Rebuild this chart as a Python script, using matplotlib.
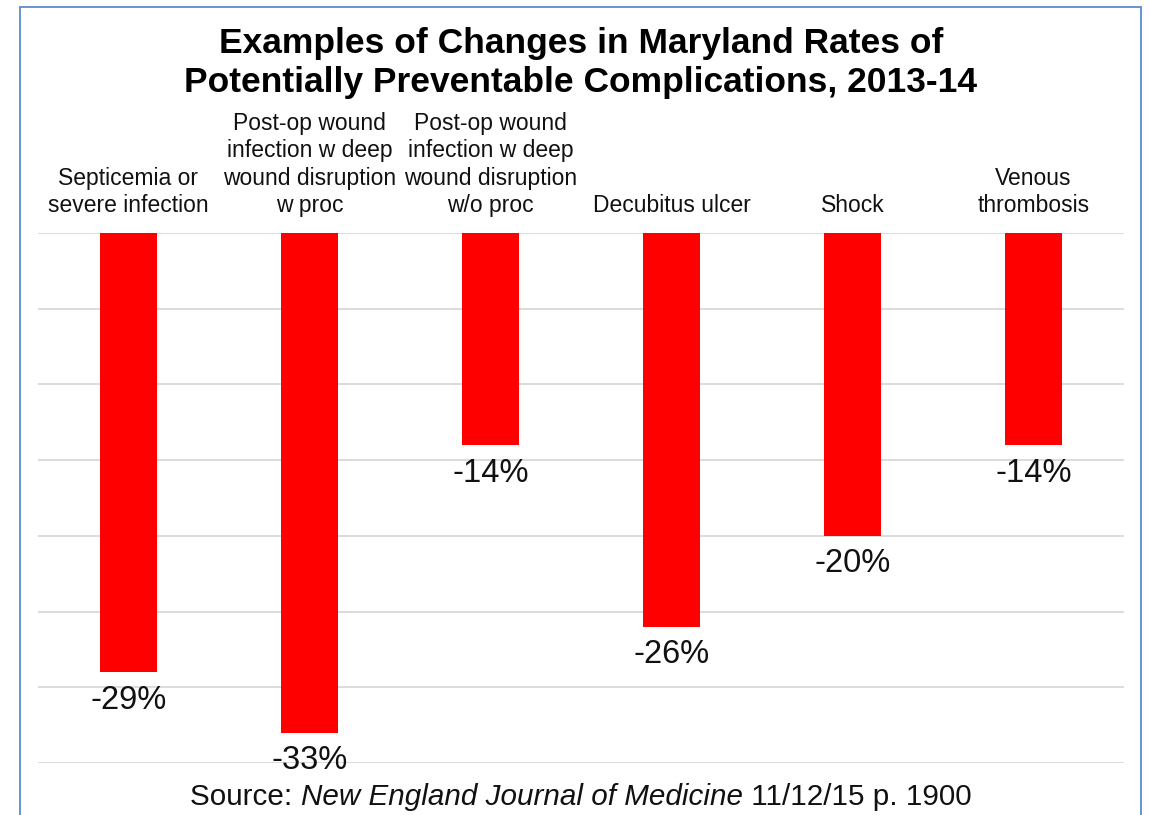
import matplotlib
matplotlib.use("Agg")
import matplotlib.pyplot as plt
from matplotlib.offsetbox import TextArea, HPacker, AnnotationBbox
from matplotlib.patches import Rectangle

categories = ["Septicemia or\nsevere infection",
              "Post-op wound\ninfection w deep\nwound disruption\nw proc",
              "Post-op wound\ninfection w deep\nwound disruption\nw/o proc",
              "Decubitus ulcer",
              "Shock",
              "Venous\nthrombosis"]
changes = [-29, -33, -14, -26, -20, -14]
value_labels = ["-29%", "-33%", "-14%", "-26%", "-20%", "-14%"]

plt.rcParams['font.family'] = ['Liberation Sans', 'DejaVu Sans']

W, H = 1150, 815
fig = plt.figure(figsize=(W / 100, H / 100), dpi=100)
ax = fig.add_axes([38 / W, 1 - 763 / H, (1124 - 38) / W, (763 - 233) / H])

x = list(range(len(categories)))
ax.bar(x, changes, width=0.315, color="#FF0000", zorder=3)
ax.set_xlim(-0.5, len(categories) - 0.5)
ax.set_ylim(-35, 0)
ax.set_yticks(range(-35, 1, 5))
ax.yaxis.grid(True, color="#D9D9D9", linewidth=1.3, zorder=0)
ax.tick_params(axis="y", left=False, labelleft=False)
ax.xaxis.tick_top()
ax.set_xticks(x)
ax.set_xticklabels(categories, fontsize=16.5, color="#111111", linespacing=1.25)
ax.tick_params(axis="x", top=False, pad=8)
for s in ax.spines.values():
    s.set_visible(False)

for xi, v, lab in zip(x, changes, value_labels):
    ax.annotate(lab, (xi, v), xytext=(0, -9), textcoords="offset points",
                ha="center", va="top", fontsize=23.5, color="#111111")

fig.text(0.505, 1 - 63 / H, "Examples of Changes in Maryland Rates of\nPotentially Preventable Complications, 2013-14",
         ha="center", va="center", fontsize=25.5, fontweight="bold", linespacing=1.24)

# source line with mixed styles
tp = dict(fontsize=21.3, color="#111111")
t1 = TextArea("Source: ", textprops=tp)
t2 = TextArea("New England Journal of Medicine", textprops=dict(tp, style="italic"))
t3 = TextArea(" 11/12/15 p. 1900", textprops=tp)
box = HPacker(children=[t1, t2, t3], align="baseline", pad=0, sep=0)
ab = AnnotationBbox(box, (581 / W, 1 - 797 / H), xycoords="figure fraction",
                    frameon=False, box_alignment=(0.5, 0.5))
fig.add_artist(ab)

# border frame
fig.add_artist(Rectangle((20 / W, -0.05), (1141 - 20) / W, 1 - 7 / H + 0.05,
                         transform=fig.transFigure, fill=False,
                         edgecolor="#5B8BD0", linewidth=1.3))

fig.savefig("out.png", dpi=100)
